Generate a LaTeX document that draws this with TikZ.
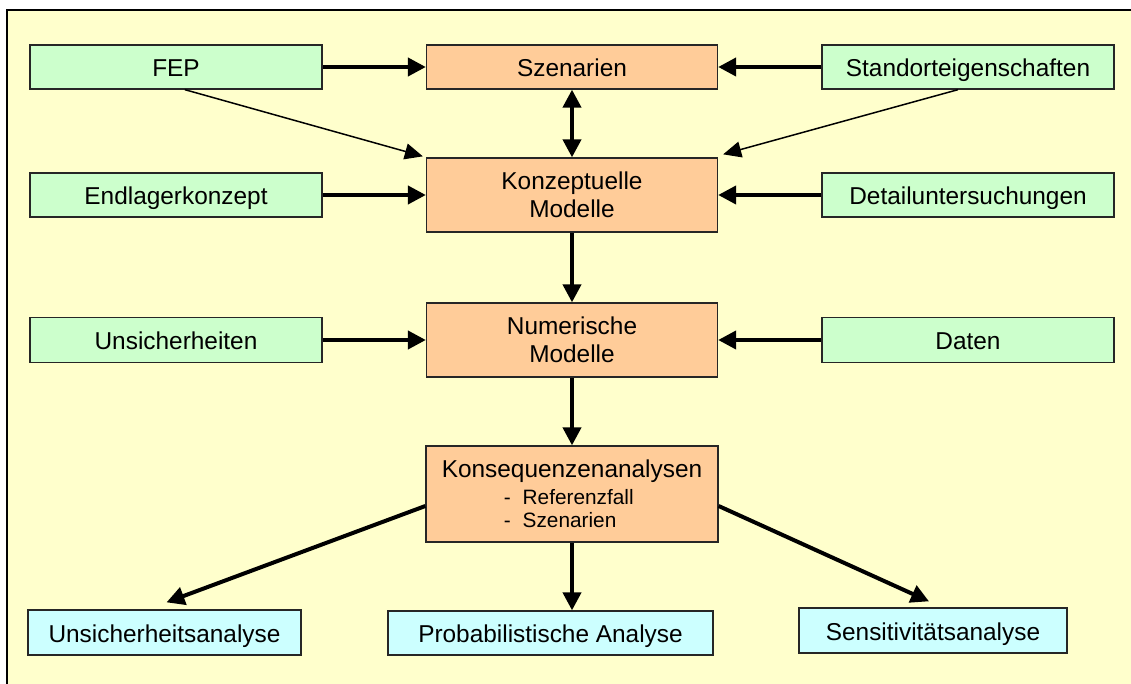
\documentclass[tikz,border=0pt]{standalone}
\usepackage{fontspec}
\setmainfont{Liberation Sans}
\usetikzlibrary{arrows.meta,calc}
\definecolor{bgyellow}{HTML}{FFFFCC}
\definecolor{boxgreen}{HTML}{CCFFCC}
\definecolor{boxorange}{HTML}{FFCC99}
\definecolor{boxcyan}{HTML}{CCFFFF}
\tikzset{
  basebox/.style={draw=black!85, line width=1.3pt, inner sep=0pt, anchor=center,
    font=\fontsize{24.4}{28.3}\selectfont, text=black},
  greenbox/.style={basebox, fill=boxgreen, minimum width=292pt, minimum height=44pt,
    text height=19.5pt, text depth=0pt},
  orangebox/.style={basebox, fill=boxorange, minimum width=291pt, align=center},
  cyanbox/.style={basebox, fill=boxcyan, minimum height=45pt,
    text height=19pt, text depth=0pt},
  thickarrow/.style={line width=4pt, -{Triangle[length=18pt,width=18pt]}},
  thinarrow/.style={line width=1.5pt, -{Triangle[length=18pt,width=16pt]}}
}
\begin{document}
\begin{tikzpicture}[x=1pt,y=-1pt]
\useasboundingbox (0,0) rectangle (1131,684);
\fill[white] (0,0) rectangle (1131,684);
\fill[bgyellow] (7,10) rectangle (1131,684);
\draw[line width=2pt] (7,684) -- (7,10) -- (1131,10);

% left column
\node[greenbox] (fep) at (176,67) {FEP};
\node[greenbox] (endl) at (176,195) {Endlagerkonzept};
\node[greenbox, minimum height=45pt] (unsi) at (176,340) {Unsicherheiten};
% right column
\node[greenbox] (stand) at (968,67) {Standorteigenschaften};
\node[greenbox] (detail) at (968,195) {Detailuntersuchungen};
\node[greenbox, minimum height=45pt] (daten) at (968,340) {Daten};
% center column
\node[orangebox, minimum height=44pt, text height=19.5pt, text depth=0pt] (szen) at (572,67) {Szenarien};
\node[orangebox, minimum height=74pt] (konz) at (572,195) {Konzeptuelle\\Modelle};
\node[orangebox, minimum height=74pt] (num) at (572,340) {Numerische\\Modelle};
\node[basebox, fill=boxorange, minimum width=292pt, minimum height=96pt, align=left] (kons) at (572,494)
  {Konsequenzenanalysen\\[-1.5pt]
   {\fontsize{20.8}{23}\selectfont\hspace*{62pt}-\hspace*{12pt}Referenzfall}\\[-5.5pt]
   {\fontsize{20.8}{23}\selectfont\hspace*{62pt}-\hspace*{12pt}Szenarien}};
% bottom row
\node[cyanbox, minimum width=273pt] (unsa) at (164.5,632.5) {Unsicherheitsanalyse};
\node[cyanbox, minimum width=325pt, minimum height=44pt] (prob) at (550.5,633) {Probabilistische Analyse};
\node[cyanbox, minimum width=268pt] (sens) at (933,630.5) {Sensitivitätsanalyse};

% horizontal arrows
\draw[thickarrow] (fep.east) -- (szen.west);
\draw[thickarrow] (stand.west) -- (szen.east);
\draw[thickarrow] (endl.east) -- (konz.west);
\draw[thickarrow] (detail.west) -- (konz.east);
\draw[thickarrow] (unsi.east) -- (num.west);
\draw[thickarrow] (daten.west) -- (num.east);
% vertical arrows
\draw[line width=4pt, {Triangle[length=18pt,width=18pt]}-{Triangle[length=18pt,width=18pt]}] (szen.south) -- (konz.north);
\draw[thickarrow] (konz.south) -- (num.north);
\draw[thickarrow] (num.south) -- (kons.north);
\draw[thickarrow] (kons.south) -- (kons.south |- prob.north);
% diagonal thin arrows
\draw[thinarrow] ($(fep.south west)!0.53!(fep.south east)$) -- ([xshift=-3pt,yshift=1pt]konz.north west);
\draw[thinarrow] ($(stand.south west)!0.466!(stand.south east)$) -- ([xshift=5pt,yshift=3pt]konz.north east);
% diagonal thick arrows
\draw[thickarrow] ([yshift=-12pt]kons.west) -- ([xshift=2pt,yshift=7pt]unsa.north);
\draw[thickarrow] ([yshift=-12pt]kons.east) -- ([xshift=-4pt,yshift=6pt]sens.north);
\end{tikzpicture}
\end{document}
